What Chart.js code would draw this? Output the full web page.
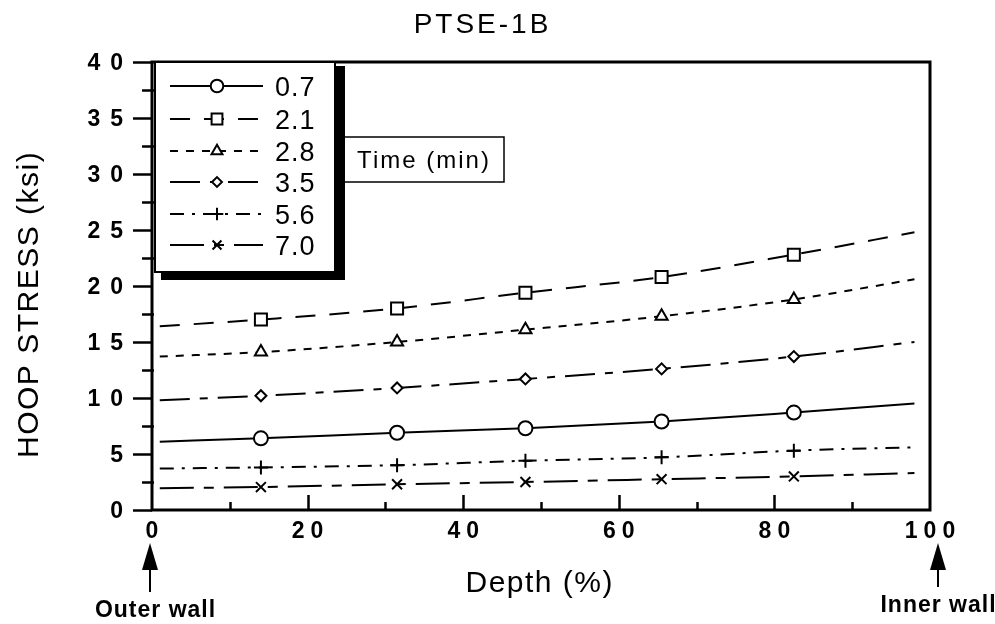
<!DOCTYPE html>
<html>
<head>
<meta charset="utf-8">
<script src="https://cdn.jsdelivr.net/npm/chart.js@4.4.1/dist/chart.umd.min.js"></script>
<style>
  html, body { margin: 0; padding: 0; background: #fff; }
  #wrap { width: 995px; height: 624px; position: relative; }
</style>
</head>
<body>
<div id="wrap"><canvas id="c" width="995" height="624"></canvas></div>
<script>
// ---- data ----
const depth = [1, 14, 31.5, 48, 65.5, 82.5, 98];           // Depth (%)
const timeLabels = ['0.7', '2.1', '2.8', '3.5', '5.6', '7.0'];  // Time (min)
const stress07 = [6.1, 6.4, 6.9, 7.3, 7.9, 8.7, 9.5];
const stress21 = [16.4, 17.0, 18.0, 19.4, 20.8, 22.8, 24.8];
const stress28 = [13.7, 14.1, 15.0, 16.1, 17.3, 18.8, 20.6];
const stress35 = [9.8, 10.2, 10.9, 11.7, 12.6, 13.7, 15.0];
const stress56 = [3.7, 3.8, 4.0, 4.4, 4.7, 5.3, 5.6];
const stress70 = [1.95, 2.05, 2.3, 2.5, 2.75, 3.0, 3.3];
const xTickLabels = [0, 20, 40, 60, 80, 100];
const yTickLabels = [0, 5, 10, 15, 20, 25, 30, 35, 40];

const seriesValues = [stress07, stress21, stress28, stress35, stress56, stress70];
const styles = [
  { dash: [],              point: 'circle',   r: 7   },
  { dash: [20, 14],        point: 'rect',     r: 8.5 },
  { dash: [8, 8],          point: 'triangle', r: 7   },
  { dash: [30, 10, 8, 10], point: 'rectRot',  r: 5.5 },
  { dash: [14, 8, 3, 8],   point: 'cross',    r: 7   },
  { dash: [34, 10, 10, 10],point: 'crossRot', r: 7   }
];

const datasets = seriesValues.map((vals, i) => ({
  label: timeLabels[i],
  data: vals.map((v, k) => ({ x: depth[k], y: v })),
  borderColor: '#000',
  borderWidth: 2,
  borderDash: styles[i].dash,
  cubicInterpolationMode: 'monotone',
  pointStyle: styles[i].point,
  pointRadius: vals.map((v, k) => (k === 0 || k === vals.length - 1) ? 0 : styles[i].r),
  pointBorderColor: '#000',
  pointBackgroundColor: '#fff',
  pointBorderWidth: 2,
  fill: false
}));

const FONT = "'Liberation Sans', Arial, Helvetica, sans-serif";

// draw text with letter spacing; align: 'left' | 'center' | 'right' (ink extent, no trailing gap)
function spacedText(ctx, text, x, y, spacing, align) {
  ctx.save();
  ctx.letterSpacing = spacing + 'px';
  ctx.textAlign = 'left';
  const w = ctx.measureText(text).width - spacing;
  let sx = x;
  if (align === 'center') sx = x - w / 2;
  else if (align === 'right') sx = x - w;
  ctx.fillText(text, sx, y);
  ctx.restore();
  return w;
}

const deco = {
  id: 'deco',
  beforeDraw(chart) {
    const ctx = chart.ctx;
    ctx.save();
    ctx.fillStyle = '#fff';
    ctx.fillRect(0, 0, chart.width, chart.height);
    ctx.restore();
  },
  afterDraw(chart) {
    const { ctx, chartArea: a, scales: { x, y } } = chart;
    ctx.save();
    ctx.strokeStyle = '#000';
    ctx.fillStyle = '#000';
    ctx.setLineDash([]);
    ctx.textBaseline = 'alphabetic';
    // frame
    ctx.lineWidth = 3;
    ctx.strokeRect(a.left, a.top, a.right - a.left, a.bottom - a.top);
    // y ticks (major outside, minor small)
    ctx.lineWidth = 2.5;
    ctx.beginPath();
    for (let v = 0; v <= 40; v += 2.5) {
      const py = Math.round(y.getPixelForValue(v)) + 0.5;
      const major = v % 5 === 0;
      ctx.moveTo(a.left - (major ? 19 : 10), py);
      ctx.lineTo(a.left + (major ? 0 : 2), py);
    }
    // x ticks (inside, upward)
    for (let v = 10; v < 100; v += 10) {
      const px = Math.round(x.getPixelForValue(v)) + 0.5;
      const major = v % 20 === 0;
      ctx.moveTo(px, a.bottom);
      ctx.lineTo(px, a.bottom - (major ? 15 : 8));
    }
    ctx.stroke();

    // tick labels
    ctx.font = 'bold 23px ' + FONT;
    yTickLabels.forEach(v => {
      spacedText(ctx, String(v), 123, y.getPixelForValue(v) + 8, 10, 'right');
    });
    xTickLabels.forEach(v => {
      spacedText(ctx, String(v), x.getPixelForValue(v), 538, 6, 'center');
    });

    // legend box with shadow
    const L = { l: a.left + 3, t: a.top, r: 335, b: 272 };
    ctx.fillRect(L.r, L.t + 4, 10, L.b - L.t + 4);
    ctx.fillRect(L.l + 6, L.b, L.r - L.l + 4, 8);
    ctx.fillStyle = '#fff';
    ctx.fillRect(L.l, L.t, L.r - L.l, L.b - L.t);
    ctx.fillStyle = '#000';
    ctx.lineWidth = 2;
    ctx.strokeRect(L.l, L.t, L.r - L.l, L.b - L.t);

    const rows = [86, 119, 151, 182, 214, 245];
    chart.data.datasets.forEach((ds, i) => {
      const yy = rows[i];
      ctx.save();
      ctx.lineWidth = 2;
      ctx.setLineDash(ds.borderDash);
      ctx.beginPath();
      ctx.moveTo(170, yy);
      ctx.lineTo(263, yy);
      ctx.stroke();
      ctx.setLineDash([]);
      ctx.fillStyle = '#fff';
      ctx.lineWidth = 2;
      Chart.helpers.drawPoint(ctx, { pointStyle: ds.pointStyle, radius: styles[i].r * 0.9, rotation: 0, borderWidth: 2 }, 217, yy);
      ctx.restore();
      ctx.font = '27px ' + FONT;
      ctx.fillStyle = '#000';
      spacedText(ctx, ds.label, 275, yy + 10, 1, 'left');
    });

    // "Time (min)" box
    ctx.lineWidth = 1.5;
    ctx.strokeRect(342, 137, 162, 45);
    ctx.font = '24px ' + FONT;
    spacedText(ctx, 'Time (min)', 423, 168, 2, 'center');

    // title
    ctx.font = '28px ' + FONT;
    spacedText(ctx, 'PTSE-1B', 481, 33, 3, 'center');

    // x axis title
    ctx.font = '30px ' + FONT;
    spacedText(ctx, 'Depth (%)', 539, 592, 1.5, 'center');

    // y axis title (rotated, bottom end at y=458)
    ctx.save();
    ctx.font = '30px ' + FONT;
    ctx.letterSpacing = '1.5px';
    const yw = ctx.measureText('HOOP STRESS (ksi)').width - 1.5;
    ctx.translate(38, 458 - yw / 2);
    ctx.rotate(-Math.PI / 2);
    spacedText(ctx, 'HOOP STRESS (ksi)', 0, 0, 1.5, 'center');
    ctx.restore();

    // arrows + wall labels
    const drawArrow = (px, bottom) => {
      ctx.lineWidth = 2;
      ctx.beginPath();
      ctx.moveTo(px, bottom);
      ctx.lineTo(px, 565);
      ctx.stroke();
      ctx.beginPath();
      ctx.moveTo(px, 543);
      ctx.lineTo(px - 8, 570);
      ctx.lineTo(px + 8, 570);
      ctx.closePath();
      ctx.fill();
    };
    drawArrow(x.getPixelForValue(0) - 2, 592);
    drawArrow(x.getPixelForValue(100) + 8, 587);
    ctx.font = 'bold 23px ' + FONT;
    spacedText(ctx, 'Outer wall', 155, 617, 1, 'center');
    spacedText(ctx, 'Inner wall', 938, 612, 1, 'center');
    ctx.restore();
  }
};

new Chart(document.getElementById('c'), {
  type: 'line',
  data: { datasets },
  options: {
    responsive: false,
    animation: false,
    layout: { padding: { left: 0, right: 65, top: 62, bottom: 0 } },
    plugins: { legend: { display: false }, tooltip: { enabled: false } },
    scales: {
      x: {
        type: 'linear', min: 0, max: 100,
        afterFit: s => { s.height = 114; },
        afterBuildTicks: s => { s.ticks = xTickLabels.map(v => ({ value: v })); },
        grid: { display: false, drawTicks: false },
        border: { display: false },
        ticks: { display: false }
      },
      y: {
        type: 'linear', min: 0, max: 40,
        afterFit: s => { s.width = 152; },
        afterBuildTicks: s => { s.ticks = yTickLabels.map(v => ({ value: v })); },
        grid: { display: false, drawTicks: false },
        border: { display: false },
        ticks: { display: false }
      }
    }
  },
  plugins: [deco]
});
</script>
</body>
</html>
